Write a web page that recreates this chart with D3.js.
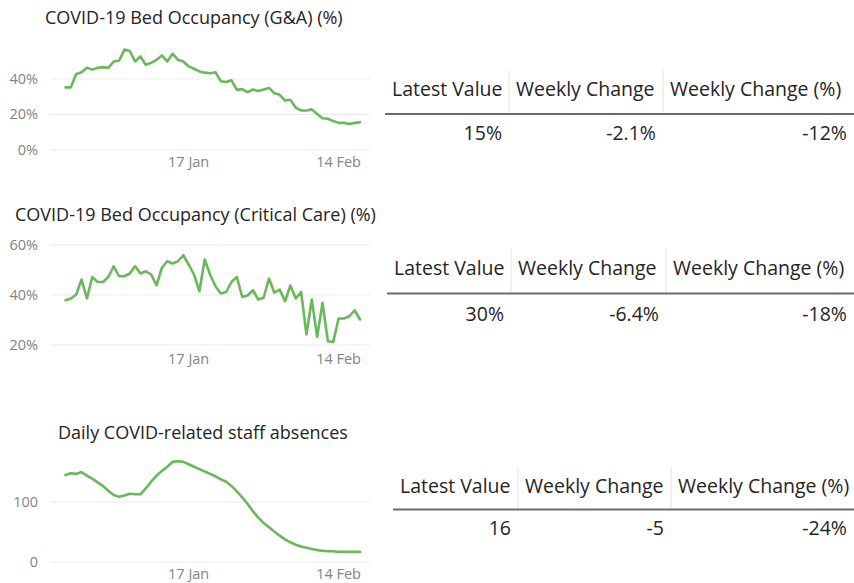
<!DOCTYPE html>
<html>
<head>
<meta charset="utf-8">
<script src="https://cdn.jsdelivr.net/npm/d3@7"></script>
<style>
  body { margin: 0; background: #fff; }
  svg { display: block; font-family: "Open Sans", "Noto Sans", sans-serif; }
</style>
</head>
<body>
<script>
// Data =========================================
const startDate = new Date(2021, 11, 25),
      endDate = new Date(2022, 1, 19);

const gaOccupancy = [35, 35, 42.6, 43.5, 46, 45, 46, 46.4, 46, 49.6,
  50, 56.3, 55.5, 49.6, 52.4, 47.7, 48.8, 50.5, 53, 49.6,
  54, 50.5, 49.6, 46.8, 45.5, 44, 43.3, 43, 43.5, 38.5,
  38, 39, 33.6, 34, 32.3, 33.8, 33, 33.8, 34.7, 31.7,
  30.8, 27.6, 28, 23.5, 22, 22, 22.6, 20, 17.6, 17.3,
  16, 15, 15, 14.4, 15, 15.4];

const ccOccupancy = [37.7, 38.4, 40, 46, 38.4, 47, 45, 45, 47, 51.3,
  47.3, 47.3, 48.4, 51.3, 48.4, 49.3, 48, 43.7, 50.7, 53.3,
  52.4, 53.3, 55.7, 52, 48, 41.3, 54, 48, 43.3, 40.4,
  41, 45, 47, 39, 39.6, 41.7, 38, 38.7, 46.4, 40.7,
  42, 37.3, 43.6, 38.4, 41, 24, 38, 23, 36.7, 21.3,
  21, 30.4, 30.4, 31.3, 33.7, 30];

const staffAbsences = [144, 147, 146, 149, 143, 138, 132, 126, 118, 111,
  108, 110, 113, 112, 112, 122, 133, 143, 151, 158,
  166, 167, 166, 162, 158, 154, 150, 146, 142, 137,
  133, 126, 117, 107, 96, 84, 73, 64, 57, 50,
  43, 37, 32, 28, 25, 23, 21, 19, 18, 17,
  17, 16, 16, 16, 16, 16];

const xTickDates = [new Date(2022, 0, 17), new Date(2022, 1, 14)];

const titles = ["COVID-19 Bed Occupancy (G&A) (%)",
  "COVID-19 Bed Occupancy (Critical Care) (%)",
  "Daily COVID-related staff absences"];

const tableHeaders = ["Latest Value", "Weekly Change", "Weekly Change (%)"];
const gaSummary = ["15%", "-2.1%", "-12%"];
const ccSummary = ["30%", "-6.4%", "-18%"];
const staffSummary = ["16", "-5", "-24%"];

// Layout =========================================
const width = 854, height = 583;
const lineColor = "#6cb75c";

const panels = [
  { title: titles[0], titleX: 45, titleY: 18, values: gaOccupancy,
    yDomain: [0, 60], yRange: [149.5, 43], yTicks: [0, 20, 40], pct: true, xLabelY: 162,
    summary: gaSummary, cols: [385, 509, 663, 854], headY: 89, lineY: 114, valY: 133 },
  { title: titles[1], titleX: 15, titleY: 215, values: ccOccupancy,
    yDomain: [20, 60], yRange: [344.5, 244.5], yTicks: [20, 40, 60], pct: true, xLabelY: 359,
    summary: ccSummary, cols: [387, 511, 666, 854], headY: 268, lineY: 293.5, valY: 314 },
  { title: titles[2], titleX: 58, titleY: 433, values: staffAbsences,
    yDomain: [0, 100], yRange: [561.5, 501.5], yTicks: [0, 100], pct: false, xLabelY: 574,
    summary: staffSummary, cols: [393, 518, 671, 854], headY: 486, lineY: 509.5, valY: 528 }
];

const dates = d3.timeDay.range(startDate, endDate);

const x = d3.scaleTime()
    .domain([startDate, dates[dates.length - 1]])
    .range([65.5, 360]);

const svg = d3.select("body").append("svg")
    .attr("width", width)
    .attr("height", height);

const fmtDay = d3.timeFormat("%-d %b");

panels.forEach(p => {
  const g = svg.append("g");

  const y = d3.scaleLinear().domain(p.yDomain).range(p.yRange);

  // Title
  g.append("text")
      .attr("x", p.titleX)
      .attr("y", p.titleY)
      .attr("dy", "0.35em")
      .attr("fill", "#252423")
      .attr("font-size", "18px")
      .text(p.title);

  // Gridlines + y labels
  const yAxis = d3.axisLeft(y)
      .tickValues(p.yTicks)
      .tickSize(-320)
      .tickPadding(12)
      .tickFormat(d => p.pct ? d + "%" : d);

  g.append("g")
      .attr("transform", "translate(50,0)")
      .call(yAxis)
      .call(a => a.select(".domain").remove())
      .call(a => a.selectAll("line").attr("stroke", "#ececec"))
      .call(a => a.selectAll("text")
          .attr("fill", "#858280")
          .attr("font-size", "14.5px")
          .attr("font-family", "'Open Sans', sans-serif"));

  // X labels
  g.selectAll(".xlab")
      .data(xTickDates)
    .enter().append("text")
      .attr("class", "xlab")
      .attr("x", d => x(d))
      .attr("y", p.xLabelY)
      .attr("dy", "0.35em")
      .attr("text-anchor", "middle")
      .attr("fill", "#858280")
      .attr("font-size", "14.5px")
      .text(d => fmtDay(d));

  // Line
  const line = d3.line()
      .x((d, i) => x(dates[i]))
      .y(d => y(d));

  g.append("path")
      .datum(p.values)
      .attr("d", line)
      .attr("fill", "none")
      .attr("stroke", lineColor)
      .attr("stroke-width", 2.6)
      .attr("stroke-linejoin", "round")
      .attr("stroke-linecap", "round");

  // Summary table
  const t = svg.append("g");
  const cols = p.cols;

  t.selectAll(".sep")
      .data(cols.slice(1, 3))
    .enter().append("line")
      .attr("x1", d => d).attr("x2", d => d)
      .attr("y1", p.headY - 19).attr("y2", p.lineY)
      .attr("stroke", "#e4e4e4");

  t.append("line")
      .attr("x1", cols[0]).attr("x2", cols[3])
      .attr("y1", p.lineY).attr("y2", p.lineY)
      .attr("stroke", "#6b6b6b")
      .attr("stroke-width", 2);

  t.selectAll(".head")
      .data(tableHeaders)
    .enter().append("text")
      .attr("x", (d, i) => cols[i] + 7)
      .attr("y", p.headY)
      .attr("dy", "0.35em")
      .attr("fill", "#252423")
      .attr("font-size", "19.5px")
      .text(d => d);

  t.selectAll(".val")
      .data(p.summary)
    .enter().append("text")
      .attr("x", (d, i) => cols[i + 1] - 7)
      .attr("y", p.valY)
      .attr("dy", "0.35em")
      .attr("text-anchor", "end")
      .attr("fill", "#252423")
      .attr("font-size", "19.5px")
      .text(d => d);
});
</script>
</body>
</html>
